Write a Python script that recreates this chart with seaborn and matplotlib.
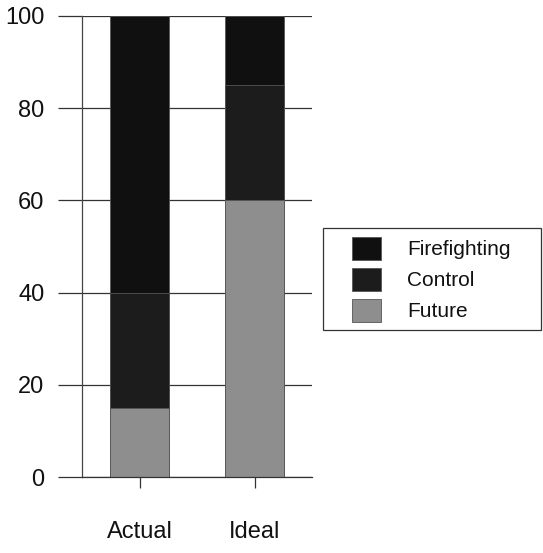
import matplotlib
matplotlib.use('Agg')
import matplotlib.pyplot as plt
import pandas as pd
import seaborn as sns
from matplotlib.patches import Patch, Rectangle

categories = ['Actual', 'Ideal']
future = [15, 60]
control = [25, 25]
firefighting = [60, 15]

series_names = ['Firefighting', 'Control', 'Future']
series_colors = {'Firefighting': '#101010', 'Control': '#1c1c1c', 'Future': '#8e8e8e'}

sns.set_style('white')
plt.rcParams['font.family'] = ['Liberation Sans', 'DejaVu Sans']

df = pd.DataFrame({
    'category': categories,
    'Future': future,
    'Control': control,
    'Firefighting': firefighting,
})
# cumulative tops, drawn tallest first so each lower segment sits on top
df['top_Future'] = df['Future']
df['top_Control'] = df['Future'] + df['Control']
df['top_Firefighting'] = df['top_Control'] + df['Firefighting']

W, H = 543, 553
fig = plt.figure(figsize=(W / 100, H / 100), dpi=100)
ax = fig.add_axes([82 / W, 76 / H, 230 / W, 461 / H])

for name in ['Firefighting', 'Control', 'Future']:
    sns.barplot(data=df, x='category', y=f'top_{name}', color=series_colors[name],
                width=0.52, edgecolor='#555555', linewidth=0.6, saturation=1, ax=ax)

ax.set_ylim(0, 100)
ax.set_xlim(-0.5, 1.5)
ax.set_yticks([0, 20, 40, 60, 80, 100])
ax.yaxis.grid(True, color='#333333', linewidth=0.9)
ax.set_axisbelow(True)
ax.set_xlabel('')
ax.set_ylabel('')
for side in ['top', 'right']:
    ax.spines[side].set_visible(False)
ax.spines['left'].set_color('#444444')
ax.spines['left'].set_linewidth(0.9)
ax.spines['bottom'].set_color('#333333')
ax.spines['bottom'].set_linewidth(0.9)
ax.tick_params(axis='y', left=True, length=17, width=0.9, color='#333333', pad=10,
               labelsize=17, labelcolor='#111111')
ax.tick_params(axis='x', bottom=True, length=8, width=0.9, color='#333333', pad=24,
               labelsize=17, labelcolor='#111111')
ax.set_xticks([0, 1])
ax.set_xticklabels(categories)

# legend box drawn separately so the inner padding can differ per side
fig.patches.append(Rectangle((323 / W, 1 - 330 / H), 218 / W, 102 / H, transform=fig.transFigure,
                             facecolor='white', edgecolor='#333333', linewidth=0.9))
handles = [Patch(facecolor=series_colors[n], edgecolor='#555555', linewidth=0.6) for n in series_names]
fig.legend(handles, series_names, loc='upper left', bbox_to_anchor=(352 / W, 1 - 237 / H),
           frameon=False, fontsize=15, handlelength=1.4, handleheight=1.3,
           handletextpad=1.25, labelspacing=0.4, borderpad=0, borderaxespad=0,
           labelcolor='#111111')

fig.savefig('out.png', dpi=100)
